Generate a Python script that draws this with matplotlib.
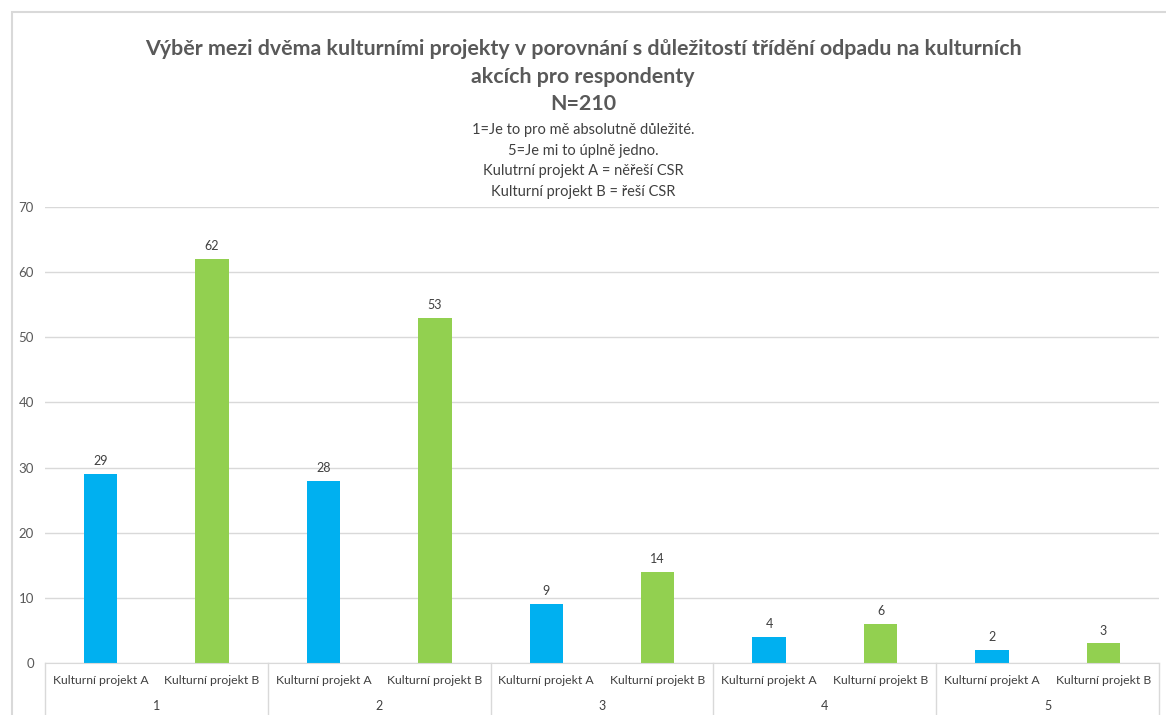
import matplotlib.pyplot as plt
import matplotlib.transforms as mtransforms
from matplotlib.patches import Rectangle

# data
groups = ['1', '2', '3', '4', '5']
projects = ['Kulturní projekt A', 'Kulturní projekt B']
values_a = [29, 28, 9, 4, 2]
values_b = [62, 53, 14, 6, 3]

title = 'Výběr mezi dvěma kulturními projekty v porovnání s důležitostí třídění odpadu na kulturních\nakcích pro respondenty'
n_text = 'N=210'
notes = ['1=Je to pro mě absolutně důležité.',
         '5=Je mi to úplně jedno.',
         'Kulutrní projekt A = něřeší CSR',
         'Kulturní projekt B = řeší CSR']

blue = '#00B0F0'
green = '#92D050'
W, H = 1166, 715

plt.rcParams['font.family'] = ['Lato', 'DejaVu Sans']

fig = plt.figure(figsize=(W / 100, H / 100), dpi=100)
fig.patches.append(Rectangle((12 / W, -0.1), 1.2, 1 - 12 / H + 0.1, transform=fig.transFigure,
                             fill=False, edgecolor='#D9D9D9', linewidth=1.5))

ax = fig.add_axes([45 / W, (H - 663) / H, (1159 - 45) / W, (663 - 207) / H])

x_a = [2 * i for i in range(len(groups))]
x_b = [2 * i + 1 for i in range(len(groups))]
bars_a = ax.bar(x_a, values_a, width=0.3, color=blue)
bars_b = ax.bar(x_b, values_b, width=0.3, color=green)
for bars in (bars_a, bars_b):
    ax.bar_label(bars, padding=5, fontsize=9, color='#404040')

ax.set_xlim(-0.5, 2 * len(groups) - 0.5)
ax.set_ylim(0, 70)
ax.set_yticks(range(0, 71, 10))
ax.tick_params(axis='y', length=0, labelsize=9.5, labelcolor='#595959', pad=8)
ax.set_xticks([])
ax.yaxis.grid(True, color='#D9D9D9', linewidth=1)
ax.set_axisbelow(True)
for s in ['top', 'right', 'left']:
    ax.spines[s].set_visible(False)
ax.spines['bottom'].set_color('#D9D9D9')

# two level category axis
trans = mtransforms.blended_transform_factory(ax.transData, ax.transAxes)
ph = 456.0
for i in range(len(groups)):
    ax.text(x_a[i], -17 / ph, projects[0], transform=trans, ha='center', va='center',
            fontsize=8.8, color='#404040')
    ax.text(x_b[i], -17 / ph, projects[1], transform=trans, ha='center', va='center',
            fontsize=8.8, color='#404040')
    ax.text(2 * i + 0.5, -43 / ph, groups[i], transform=trans, ha='center', va='center',
            fontsize=9, color='#404040')
for xs in range(len(groups) + 1):
    ax.plot([2 * xs - 0.5, 2 * xs - 0.5], [0, -60 / ph], transform=trans, color='#D9D9D9',
            linewidth=1, clip_on=False)

fig.text(0.5, 1 - 63 / H, title, ha='center', va='center', fontsize=15.4, fontweight='bold',
         color='#595959', linespacing=1.45)
fig.text(0.5, 1 - 104 / H, n_text, ha='center', va='center', fontsize=15.4, fontweight='bold',
         color='#595959')
for k, note in enumerate(notes):
    fig.text(0.5, 1 - (130 + 20.7 * k) / H, note, ha='center', va='center', fontsize=10.5,
             color='#404040')

fig.savefig('out.png', dpi=100)
